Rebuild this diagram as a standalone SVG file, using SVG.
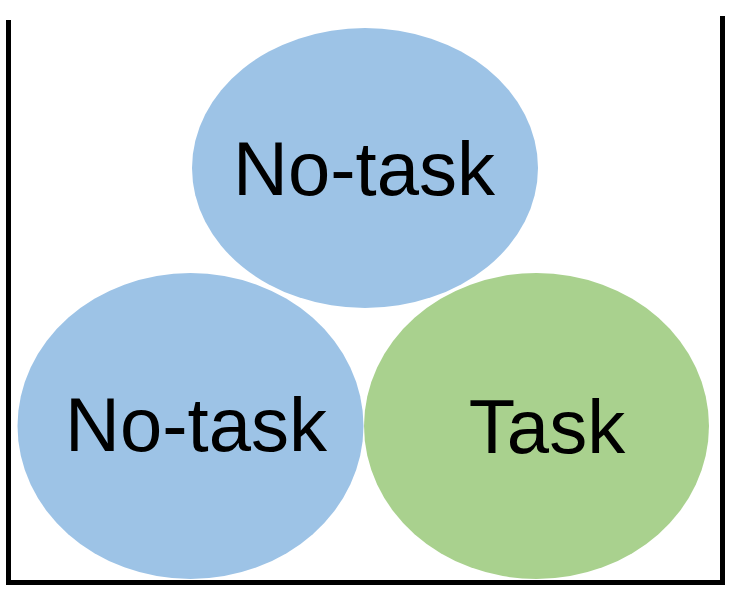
<svg xmlns="http://www.w3.org/2000/svg" width="733" height="592" viewBox="0 0 733 592">
<style>
.blue{fill:#9DC3E6}
.green{fill:#A9D18E}
.lbl{font-family:"Liberation Sans",Arial,sans-serif;font-size:76px;fill:#000;text-anchor:middle}
</style>
<rect width="733" height="592" fill="#fff"/>
<g id="container">
<path d="M8.5 20 V582.5 H722.5 V16" fill="none" stroke="#000" stroke-width="5"/>
</g>
<g id="notask-top">
<ellipse class="blue" cx="365" cy="168" rx="173" ry="140"/>
<text class="lbl" x="364" y="195">No-task</text>
</g>
<g id="notask-left">
<ellipse class="blue" cx="190.5" cy="426" rx="173" ry="153"/>
<text class="lbl" x="196" y="451">No-task</text>
</g>
<g id="task">
<ellipse class="green" cx="536.5" cy="426" rx="172.5" ry="153"/>
<text class="lbl" x="547" y="453">Task</text>
</g>
<g id="connectors"/>
</svg>
